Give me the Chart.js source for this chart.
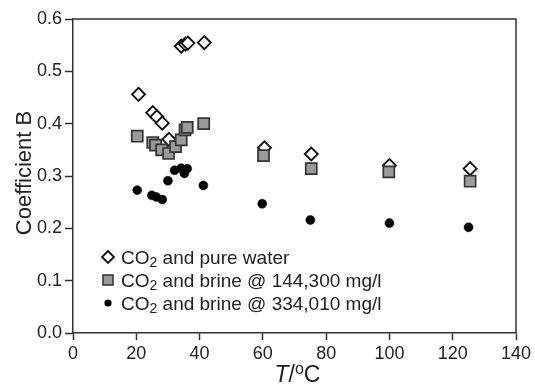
<!DOCTYPE html>
<html>
<head>
<meta charset="utf-8">
<script src="https://cdn.jsdelivr.net/npm/chart.js@4"></script>
<style>
  html, body { margin: 0; padding: 0; background: #fff; }
  #wrap { width: 535px; height: 385px; }
</style>
</head>
<body>
<div id="wrap"><canvas id="chart" width="535" height="385"></canvas></div>
<script>
// Coefficient B against temperature for three CO2 systems
const seriesLabels = [
  'CO₂ and pure water',
  'CO₂ and brine @ 144,300 mg/l',
  'CO₂ and brine @ 334,010 mg/l'
];

// CO2 + pure water
const waterT = [20.7, 25.2, 26.5, 28.2, 30.3, 34.2, 35.5, 36.3, 41.5, 60.5, 75.3, 100.0, 125.5];
const waterB = [0.456, 0.421, 0.413, 0.401, 0.370, 0.548, 0.552, 0.554, 0.555, 0.354, 0.342, 0.320, 0.314];

// CO2 + brine, 144,300 mg/l
const brine1T = [20.3, 25.2, 26.1, 28.0, 30.2, 32.4, 34.2, 35.4, 36.1, 41.3, 60.2, 75.3, 99.8, 125.5];
const brine1B = [0.376, 0.364, 0.359, 0.350, 0.343, 0.356, 0.369, 0.388, 0.393, 0.400, 0.339, 0.314, 0.308, 0.290];

// CO2 + brine, 334,010 mg/l
const brine2T = [20.3, 24.9, 26.3, 28.2, 30.0, 32.1, 34.2, 35.2, 36.1, 41.2, 59.8, 75.0, 100.0, 125.0];
const brine2B = [0.273, 0.263, 0.260, 0.255, 0.291, 0.311, 0.315, 0.305, 0.314, 0.282, 0.247, 0.216, 0.210, 0.202];

const xTicks = [0, 20, 40, 60, 80, 100, 120, 140];
const yTicks = [0.0, 0.1, 0.2, 0.3, 0.4, 0.5, 0.6];

const toPoints = (xs, ys) => xs.map((x, i) => ({ x: x, y: ys[i] }));

const AXIS = '#333';
const TEXT = '#222';
const FONT = 'Liberation Sans, Arial, Helvetica, sans-serif';

// marker painters for the in-plot legend
function drawDiamond(ctx, x, y, r) {
  ctx.beginPath();
  ctx.moveTo(x, y - r); ctx.lineTo(x + r, y); ctx.lineTo(x, y + r); ctx.lineTo(x - r, y);
  ctx.closePath();
  ctx.fillStyle = '#fff'; ctx.fill();
  ctx.lineWidth = 1.8; ctx.strokeStyle = '#111'; ctx.stroke();
}
function drawSquare(ctx, x, y, s) {
  ctx.beginPath();
  ctx.rect(x - s / 2, y - s / 2, s, s);
  ctx.fillStyle = '#9a9a9a'; ctx.fill();
  ctx.lineWidth = 1.6; ctx.strokeStyle = '#333'; ctx.stroke();
}
function drawDot(ctx, x, y, r) {
  ctx.beginPath();
  ctx.arc(x, y, r, 0, Math.PI * 2);
  ctx.fillStyle = '#000'; ctx.fill();
}

// text with the "₂" rendered as a lowered, smaller digit
function drawChemText(ctx, text, x, y, size) {
  const parts = text.split('₂');
  let cx = x;
  ctx.textAlign = 'left';
  ctx.textBaseline = 'alphabetic';
  ctx.fillStyle = TEXT;
  parts.forEach((p, i) => {
    ctx.font = size + 'px ' + FONT;
    ctx.fillText(p, cx, y);
    cx += ctx.measureText(p).width;
    if (i < parts.length - 1) {
      ctx.font = Math.round(size * 0.75) + 'px ' + FONT;
      ctx.fillText('2', cx, y + 3.5);
      cx += ctx.measureText('2').width;
    }
  });
}

const framePlugin = {
  id: 'frameAndText',
  afterDraw(chart) {
    const { ctx, chartArea: a } = chart;
    ctx.save();
    // top and right frame lines
    ctx.strokeStyle = AXIS;
    ctx.lineWidth = 1.5;
    ctx.beginPath();
    ctx.moveTo(a.left, a.top); ctx.lineTo(a.right, a.top); ctx.lineTo(a.right, a.bottom);
    ctx.stroke();

    // y axis title
    ctx.save();
    ctx.translate(31, (a.top + a.bottom) / 2 - 3);
    ctx.rotate(-Math.PI / 2);
    ctx.font = '22px ' + FONT;
    ctx.fillStyle = TEXT;
    ctx.textAlign = 'center';
    ctx.textBaseline = 'alphabetic';
    ctx.fillText('Coefficient B', 0, 0);
    ctx.restore();

    // x axis title: italic T, slash, raised o, C
    const pieces = [
      { t: 'T', f: 'italic 23px ' + FONT, dy: 0 },
      { t: '/', f: '23px ' + FONT, dy: 0 },
      { t: 'o', f: '16px ' + FONT, dy: -8 },
      { t: 'C', f: '23px ' + FONT, dy: 0 }
    ];
    let total = 0;
    pieces.forEach(p => { ctx.font = p.f; p.w = ctx.measureText(p.t).width; total += p.w; });
    let px = (a.left + a.right) / 2 - total / 2 + 3;
    const base = 382;
    ctx.fillStyle = TEXT;
    ctx.textAlign = 'left';
    ctx.textBaseline = 'alphabetic';
    pieces.forEach(p => { ctx.font = p.f; ctx.fillText(p.t, px, base + p.dy); px += p.w; });

    // legend inside the plot
    const mx = 108, tx = 121, rows = [257, 280, 303];
    drawDiamond(ctx, mx, rows[0], 6);
    drawSquare(ctx, mx, rows[1], 10);
    drawDot(ctx, mx, rows[2], 3.6);
    seriesLabels.forEach((lab, i) => drawChemText(ctx, lab, tx, rows[i] + 6.8, 19));
    ctx.restore();
  }
};

new Chart(document.getElementById('chart'), {
  type: 'scatter',
  data: {
    datasets: [
      {
        label: seriesLabels[0],
        data: toPoints(waterT, waterB),
        pointStyle: 'rectRot',
        pointRadius: 6.5,
        pointHoverRadius: 6.5,
        backgroundColor: '#fff',
        borderColor: '#111',
        borderWidth: 1.9,
        order: 1
      },
      {
        label: seriesLabels[1],
        data: toPoints(brine1T, brine1B),
        pointStyle: 'rect',
        pointRadius: 7.8,
        pointHoverRadius: 7.8,
        backgroundColor: '#9a9a9a',
        borderColor: '#333',
        borderWidth: 1.7,
        order: 0
      },
      {
        label: seriesLabels[2],
        data: toPoints(brine2T, brine2B),
        pointStyle: 'circle',
        pointRadius: 4.5,
        pointHoverRadius: 4.5,
        backgroundColor: '#000',
        borderColor: '#000',
        borderWidth: 0.5,
        order: 2
      }
    ]
  },
  options: {
    responsive: false,
    animation: false,
    events: [],
    layout: { padding: { top: 19, right: 19, left: 0, bottom: 0 } },
    plugins: {
      legend: { display: false },
      tooltip: { enabled: false },
      title: { display: false }
    },
    scales: {
      x: {
        type: 'linear',
        min: xTicks[0],
        max: xTicks[xTicks.length - 1],
        afterBuildTicks: s => { s.ticks = xTicks.map(v => ({ value: v })); },
        afterFit: s => { s.height = 52; },
        ticks: {
          color: TEXT,
          font: { family: FONT, size: 18 },
          padding: 3,
          maxRotation: 0,
          callback: v => String(v)
        },
        grid: { drawOnChartArea: false, drawTicks: true, tickLength: 7, tickColor: AXIS, tickWidth: 1.5 },
        border: { display: true, color: AXIS, width: 1.5 }
      },
      y: {
        type: 'linear',
        min: yTicks[0],
        max: yTicks[yTicks.length - 1],
        afterBuildTicks: s => { s.ticks = yTicks.map(v => ({ value: v })); },
        afterFit: s => { s.width = 73; },
        ticks: {
          color: TEXT,
          font: { family: FONT, size: 18 },
          padding: 3,
          callback: v => Number(v).toFixed(1)
        },
        grid: { drawOnChartArea: false, drawTicks: true, tickLength: 8, tickColor: AXIS, tickWidth: 1.5 },
        border: { display: true, color: AXIS, width: 1.5 }
      }
    }
  },
  plugins: [framePlugin]
});
</script>
</body>
</html>
